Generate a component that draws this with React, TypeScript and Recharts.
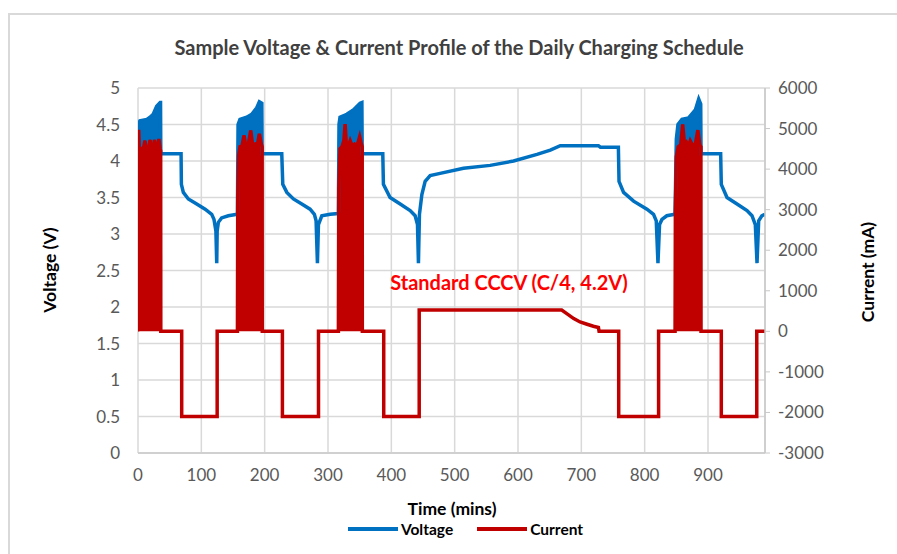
import React from 'react';
import { ComposedChart, Line, Area, XAxis, YAxis, CartesianGrid, Legend } from 'recharts';

type Pt = [number, number];

const BLUE = '#0070C0';
const RED = '#C00000';

// time ticks (mins) and the two value axes
const timeTicks = [0, 100, 200, 300, 400, 500, 600, 700, 800, 900];
const voltTicks = [0, 0.5, 1, 1.5, 2, 2.5, 3, 3.5, 4, 4.5, 5];
const currentTicks = [-3000, -2000, -1000, 0, 1000, 2000, 3000, 4000, 5000, 6000];
const seriesOrder = ['Voltage', 'Current'];

// voltage (V): upper edge during pulsed charging, and the trace between pulses
const vPulse1: Pt[] = [[0, 3.9], [0.5, 4.3], [1, 4.52], [3, 4.55], [8, 4.56], [14, 4.57], [19, 4.6], [24, 4.64], [29.5, 4.75], [35, 4.8], [35.6, 4.8]];
const vRest1: Pt[] = [[36, 4.1], [68, 4.1], [68.5, 3.68], [71.6, 3.57], [79.5, 3.48], [92.7, 3.41], [106, 3.34], [116.4, 3.27], [120, 3.2], [123, 3.04], [124.3, 2.6], [125, 3.04], [126.9, 3.16], [132, 3.22], [142.6, 3.25], [156.8, 3.27]];
const vPulse2: Pt[] = [[157, 3.3], [158, 4.5], [161, 4.57], [171.7, 4.6], [179.6, 4.64], [187.5, 4.73], [191.6, 4.81], [195.5, 4.79]];
const vRest2: Pt[] = [[196, 4.1], [227, 4.1], [228.6, 3.68], [235, 3.57], [245.4, 3.48], [258.6, 3.41], [271.7, 3.34], [278.5, 3.27], [281.2, 3.18], [283.3, 2.6], [284.9, 3.13], [290.2, 3.25], [303.3, 3.27], [316, 3.28]];
const vPulse3: Pt[] = [[316.4, 3.3], [317.4, 4.5], [319, 4.6], [329.7, 4.64], [340, 4.7], [350.7, 4.79], [353.5, 4.8]];
const vRest3: Pt[] = [[354, 4.1], [386.5, 4.1], [387.5, 3.68], [398, 3.5], [414, 3.41], [429.7, 3.32], [437.6, 3.25], [441.3, 3.13], [442.8, 2.6], [444.4, 3.27], [448.2, 3.54], [453.4, 3.72], [461.3, 3.8], [477, 3.83], [513.9, 3.9], [556, 3.94], [593, 4.0], [630, 4.09], [651, 4.15], [666.7, 4.21], [727, 4.21], [730, 4.19], [758.5, 4.19], [759.5, 3.72], [766.7, 3.57], [782.5, 3.45], [803.6, 3.34], [814, 3.27], [818.3, 3.18], [821, 2.6], [823.5, 3.13], [827.3, 3.2], [835, 3.25], [847.6, 3.27]];
const vPulse4: Pt[] = [[848, 3.3], [850, 4.3], [852.6, 4.5], [858.9, 4.57], [869.4, 4.59], [880, 4.7], [885.3, 4.85], [888.5, 4.78]];
const vRest4: Pt[] = [[889, 4.1], [920, 4.1], [921, 3.68], [930, 3.5], [945.8, 3.41], [961.6, 3.32], [969.5, 3.25], [974.7, 3.13], [977.4, 2.6], [980, 3.18], [985, 3.25], [990, 3.27]];

// current (mA): top of the pulse bursts, and the step profile in between
const cPulse1: Pt[] = [[0, 0], [0.3, 3500], [1, 4970], [2, 4500], [5, 4480], [9, 4550], [11, 4700], [13, 4500], [17, 4500], [19, 4720], [21, 4520], [24, 4500], [26, 4720], [28, 4520], [31, 4550], [33, 4740], [35, 4500], [35.8, 4450], [36, 0]];
const cRest1: Pt[] = [[36, 0], [69, 0], [69, -2100], [125, -2100], [125, 0], [157, 0]];
const cPulse2: Pt[] = [[157, 0], [157.5, 3300], [159, 4350], [161, 4550], [164, 4560], [167.5, 4830], [170, 4580], [174, 4600], [178, 4950], [181, 4600], [185, 4620], [188, 4560], [191.6, 4870], [195, 4600], [196, 4550], [196.2, 0]];
const cRest2: Pt[] = [[196.2, 0], [228, 0], [228, -2100], [285, -2100], [285, 0], [316.4, 0]];
const cPulse3: Pt[] = [[316.4, 0], [317, 3500], [319, 4500], [322, 4550], [325, 4700], [327, 5110], [329, 4600], [332, 4560], [335, 4700], [338, 4580], [342, 4620], [346, 4580], [350, 4800], [353, 4600], [354, 4550], [354.2, 0]];
const cRest3: Pt[] = [[354.2, 0], [388, 0], [388, -2100], [444, -2100], [444, 525], [669, 525], [677, 438], [688, 315], [698, 232], [709, 175], [719, 125], [727, 95], [728, 0], [759, 0], [759, -2100], [822, -2100], [822, 0], [848, 0]];
const cPulse4: Pt[] = [[848, 0], [848.5, 3000], [850, 4300], [853, 4550], [857, 4600], [860, 5100], [863, 4600], [866, 4660], [869, 4550], [872, 4700], [876, 4580], [880, 4620], [884, 4960], [887, 4600], [888.8, 4550], [889, 0]];
const cRest4: Pt[] = [[889, 0], [921, 0], [921, -2100], [977, -2100], [977, 0], [990, 0]];

const toRows = (pts: Pt[]) => pts.map(([t, y]) => ({ t, y }));

const voltageRows = toRows([...vPulse1, ...vRest1, ...vPulse2, ...vRest2, ...vPulse3, ...vRest3, ...vPulse4, ...vRest4]);
const currentRows = toRows([...cPulse1, ...cRest1, ...cPulse2, ...cRest2, ...cPulse3, ...cRest3, ...cPulse4, ...cRest4]);
const vPulses = [vPulse1, vPulse2, vPulse3, vPulse4];
const cPulses = [cPulse1, cPulse2, cPulse3, cPulse4];

const tickStyle = { fontSize: 17, fill: '#595959', fontFamily: 'Lato' };

function LegendContent({ payload }: any) {
  const items = (payload || [])
    .filter((p: any) => p.type !== 'none')
    .sort((a: any, b: any) => seriesOrder.indexOf(a.value) - seriesOrder.indexOf(b.value));
  return (
    <div style={{ display: 'flex', justifyContent: 'center', gap: 24, fontFamily: 'Lato', fontSize: 15.5, fontWeight: 700, color: '#000' }}>
      {items.map((p: any) => (
        <div key={p.value} style={{ display: 'flex', alignItems: 'center', gap: 3 }}>
          <span style={{ display: 'inline-block', width: 50, height: 4, background: p.color }} />
          <span>{p.value}</span>
        </div>
      ))}
    </div>
  );
}

export default function App() {
  return (
    <div style={{ position: 'absolute', left: 0, top: 0, width: 897, height: 554, overflow: 'hidden', background: '#fff', fontFamily: 'Lato' }}>
      <div style={{ position: 'absolute', left: 8, top: 13, width: 920, height: 580, border: '2px solid #d9d9d9' }} />
      <ComposedChart width={897} height={554} margin={{ top: 88, right: 0, bottom: 0, left: 0 }} style={{ position: 'absolute', left: 0, top: 0 }}>
        <CartesianGrid yAxisId="v" stroke="#d9d9d9" strokeWidth={1.5} />
        <XAxis
          dataKey="t"
          type="number"
          domain={[0, 990]}
          ticks={timeTicks}
          allowDataOverflow
          height={101}
          tick={tickStyle}
          tickLine={false}
          tickSize={0}
          tickMargin={16}
          axisLine={{ stroke: '#d0d0d0', strokeWidth: 2 }}
        />
        <YAxis
          yAxisId="v"
          domain={[0, 5]}
          ticks={voltTicks}
          width={138}
          tick={tickStyle}
          tickLine={false}
          tickSize={0}
          tickMargin={18}
          axisLine={false}
        />
        <YAxis
          yAxisId="i"
          orientation="right"
          domain={[-3000, 6000]}
          ticks={currentTicks}
          width={132}
          tick={tickStyle}
          tickSize={5}
          tickMargin={8}
          tickLine={{ stroke: '#c8c8c8' }}
          axisLine={{ stroke: '#c8c8c8', strokeWidth: 1.5 }}
        />
        {vPulses.map((b, i) => (
          <Area
            key={`va${i}`}
            yAxisId="v"
            data={toRows(b)}
            dataKey="y"
            type="linear"
            baseValue={3.9}
            fill={BLUE}
            fillOpacity={1}
            stroke={BLUE}
            strokeWidth={2}
            legendType="none"
            isAnimationActive={false}
          />
        ))}
        <Line yAxisId="v" data={voltageRows} dataKey="y" name="Voltage" type="linear" stroke={BLUE} strokeWidth={3.5} dot={false} activeDot={false} isAnimationActive={false} />
        {cPulses.map((b, i) => (
          <Area
            key={`ca${i}`}
            yAxisId="i"
            data={toRows(b)}
            dataKey="y"
            type="linear"
            baseValue={0}
            fill={RED}
            fillOpacity={1}
            stroke={RED}
            strokeWidth={2}
            legendType="none"
            isAnimationActive={false}
          />
        ))}
        <Line yAxisId="i" data={currentRows} dataKey="y" name="Current" type="linear" stroke={RED} strokeWidth={3.5} dot={false} activeDot={false} isAnimationActive={false} />
        <Legend layout="horizontal" verticalAlign="middle" align="center" wrapperStyle={{ top: 520, left: 17, width: 897 }} content={<LegendContent />} />
      </ComposedChart>

      <div style={{ position: 'absolute', left: 459, top: 47, transform: 'translate(-50%, -50%)', whiteSpace: 'nowrap', fontSize: 20, fontWeight: 700, color: '#404040', lineHeight: 1 }}>
        Sample Voltage &amp; Current Profile of the Daily Charging Schedule
      </div>
      <div style={{ position: 'absolute', left: 50, top: 270, transform: 'translate(-50%, -50%) rotate(-90deg)', whiteSpace: 'nowrap', fontSize: 17.5, fontWeight: 700, color: '#000', lineHeight: 1 }}>
        Voltage (V)
      </div>
      <div style={{ position: 'absolute', left: 868, top: 272, transform: 'translate(-50%, -50%) rotate(-90deg)', whiteSpace: 'nowrap', fontSize: 17.5, fontWeight: 700, color: '#000', lineHeight: 1 }}>
        Current (mA)
      </div>
      <div style={{ position: 'absolute', left: 452, top: 509, transform: 'translate(-50%, -50%)', whiteSpace: 'nowrap', fontSize: 17.5, fontWeight: 700, color: '#000', lineHeight: 1 }}>
        Time (mins)
      </div>
      <div style={{ position: 'absolute', left: 509, top: 282, transform: 'translate(-50%, -50%)', whiteSpace: 'nowrap', fontSize: 20, fontWeight: 700, color: '#FF0000', lineHeight: 1 }}>
        Standard CCCV (C/4, 4.2V)
      </div>
    </div>
  );
}
